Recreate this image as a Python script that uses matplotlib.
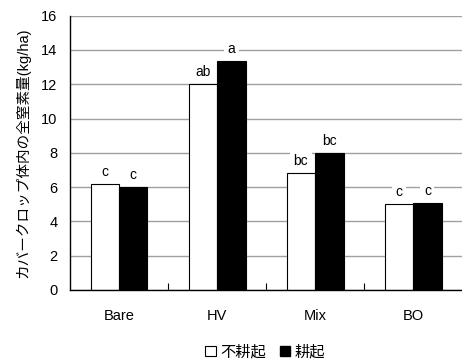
import numpy as np
import matplotlib.pyplot as plt
from matplotlib.patches import Patch

plt.rcParams['font.family'] = ['Liberation Sans', 'Noto Sans CJK JP', 'DejaVu Sans']

categories = ['Bare', 'HV', 'Mix', 'BO']
no_till = [6.17, 12.02, 6.84, 5.0]
till = [5.99, 13.36, 8.01, 5.08]
no_till_letters = ['c', 'ab', 'bc', 'c']
till_letters = ['c', 'a', 'bc', 'c']
series_names = ['不耕起', '耕起']

ind = np.arange(len(categories))
width = 0.29

fig = plt.figure(figsize=(4.62, 3.61), dpi=100)
ax = fig.add_axes([0.1515, 0.1967, 0.866, 0.7598])

ax.yaxis.grid(True, color='#a0a0a0', linewidth=1.0, zorder=0)
ax.set_axisbelow(True)

rects1 = ax.bar(ind - width / 2, no_till, width, color='white', edgecolor='black', linewidth=0.8, zorder=2)
rects2 = ax.bar(ind + width / 2, till, width, color='black', edgecolor='black', linewidth=0.8, zorder=2)

def autolabel(rects, letters):
    for rect, s in zip(rects, letters):
        h = rect.get_height()
        ax.text(rect.get_x() + rect.get_width() / 2., h + 0.3, s,
                ha='center', va='bottom', fontsize=10, zorder=3,
                bbox=dict(facecolor='white', edgecolor='none', pad=2.5))

autolabel(rects1, no_till_letters)
autolabel(rects2, till_letters)

ax.set_xlim(-0.5, 3.58)
ax.set_ylim(0, 16)
ax.set_yticks(np.arange(0, 17, 2))
ax.set_xticks(ind)
ax.set_xticklabels(categories, fontsize=10.5)
ax.set_xticks(ind[:-1] + 0.5, minor=True)
ax.tick_params(axis='x', which='major', length=0, pad=14)
ax.tick_params(axis='x', which='minor', direction='in', length=5, width=0.8)
ax.tick_params(axis='y', which='major', labelsize=10.5, length=0, pad=9)

ax.spines['top'].set_visible(False)
ax.spines['right'].set_visible(False)
ax.spines['left'].set_linewidth(1.0)
ax.spines['bottom'].set_linewidth(1.0)

ax.set_ylabel('カバークロップ体内の全窒素量(kg/ha)', fontsize=10.5, labelpad=8)

handles = [Patch(facecolor='white', edgecolor='black', linewidth=0.8),
           Patch(facecolor='black', edgecolor='black')]
fig.legend(handles, series_names, loc='center', bbox_to_anchor=(0.574, 0.025),
           ncol=2, frameon=False, fontsize=11, handlelength=0.7, handleheight=0.7,
           handletextpad=0.3, columnspacing=0.9)

fig.savefig('out.png', dpi=100)
